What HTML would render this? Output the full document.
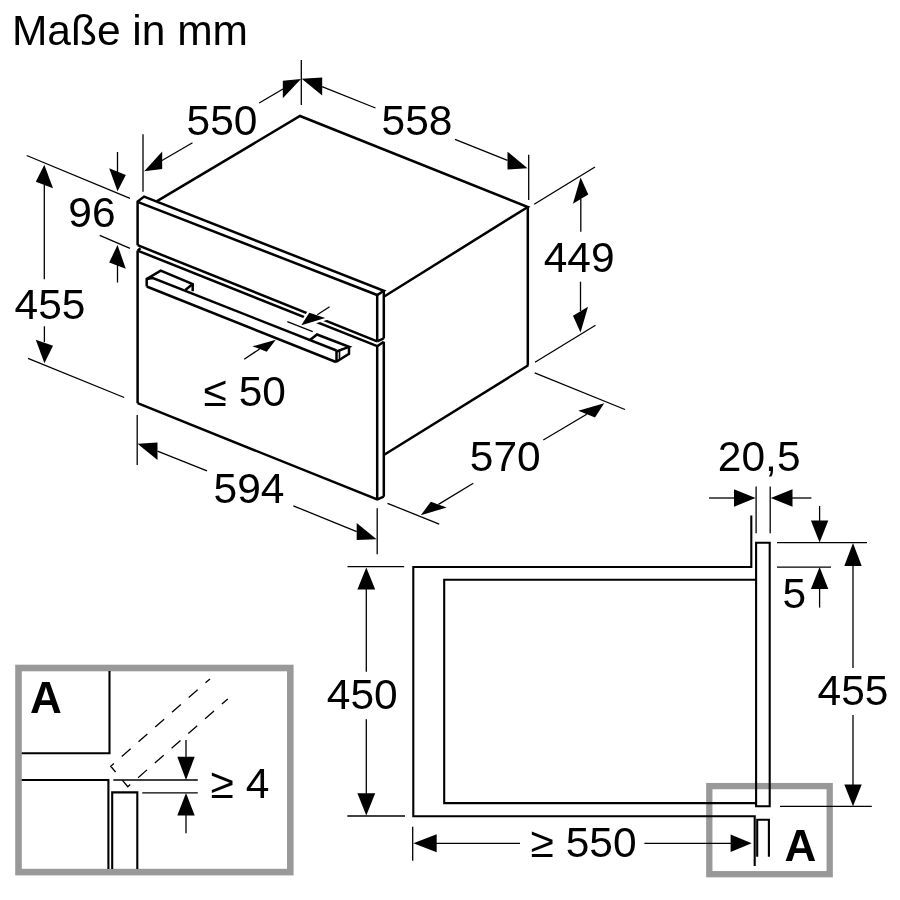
<!DOCTYPE html>
<html><head><meta charset="utf-8"><style>
html,body{margin:0;padding:0;background:#fff;}
svg{display:block;font-family:"Liberation Sans",sans-serif;will-change:transform;}
</style></head><body>
<svg width="900" height="900" viewBox="0 0 900 900" stroke="#000" stroke-linecap="butt" stroke-linejoin="miter">
<rect x="0" y="0" width="900" height="900" fill="#fff" stroke="none"/>
<rect x="18.5" y="668" width="271.8" height="204.1" fill="none" stroke="#999" stroke-width="6.6"/>
<rect x="709.3" y="786.1" width="120.4" height="88.1" fill="none" stroke="#999" stroke-width="6.3"/>
<text x="11.9" y="44.5" font-size="42.5" font-weight="normal" stroke="none" fill="#000">Maße in mm</text>
<path d="M137.6,245.2 V201.6 L144.1,196.6 L383.8,290.8 L377.2,295 L137.6,201.8" stroke-width="2.5" fill="none"/>
<line x1="377.2" y1="295" x2="377.2" y2="341.3" stroke-width="2.5"/>
<line x1="383.8" y1="290.8" x2="383.8" y2="338.5" stroke-width="2.5"/>
<line x1="137.6" y1="245.2" x2="377.2" y2="341.3" stroke-width="2.5"/>
<path d="M377.2,341.3 L383.8,338.3" stroke-width="2.5" fill="none"/>
<path d="M137.6,250.6 L140.5,248.2" stroke-width="2.5" fill="none"/>
<line x1="137.6" y1="250.6" x2="137.6" y2="403.2" stroke-width="2.5"/>
<line x1="137.6" y1="250.6" x2="377.2" y2="346.2" stroke-width="2.5"/>
<path d="M377.2,346.2 L383.8,341.8" stroke-width="2.5" fill="none"/>
<line x1="377.2" y1="346.2" x2="377.2" y2="499.5" stroke-width="2.5"/>
<line x1="383.8" y1="341.8" x2="383.8" y2="496.7" stroke-width="2.5"/>
<path d="M137.6,403.2 L377.2,499.5 L383.8,496.7" stroke-width="2.5" fill="none"/>
<path d="M156.6,201.4 L300,116 L527.8,207 L383.8,296.7" stroke-width="2.5" fill="none"/>
<line x1="527.8" y1="207" x2="527.8" y2="365.3" stroke-width="2.5"/>
<line x1="528.3" y1="365.3" x2="383.8" y2="455" stroke-width="2.5"/>
<path d="M146.7,286.5 V279 L160.7,270.7 L192.7,284 V291.3" stroke-width="2.5" fill="none"/>
<path d="M146.7,279 L152.3,277.9 L336.5,350.5" stroke-width="2.5" fill="none"/>
<path d="M185.3,290 L192.7,284" stroke-width="2.5" fill="none"/>
<line x1="146.7" y1="286.5" x2="336" y2="362" stroke-width="2.5"/>
<path d="M310,340 L317,334.5 L349,346.8 L336.5,351.5" stroke-width="2.5" fill="none"/>
<path d="M349,346.8 V353.8 L336,362" stroke-width="2.5" fill="none"/>
<line x1="336.5" y1="351" x2="336.5" y2="362" stroke-width="2.5"/>
<line x1="339.5" y1="351" x2="339.5" y2="360" stroke-width="1.6"/>
<line x1="143" y1="134.2" x2="143" y2="191.7" stroke-width="1.3"/>
<line x1="301.3" y1="60" x2="301.3" y2="105" stroke-width="1.3"/>
<polygon points="144.2,171.3 162.2,151.5 162.2,169.0" stroke="none" fill="#000"/>
<line x1="162" y1="160.5" x2="192.5" y2="142.8" stroke-width="1.3"/>
<line x1="259.2" y1="103" x2="283" y2="89" stroke-width="1.3"/>
<polygon points="301.0,79.0 282.8,80.8 282.8,98.3" stroke="none" fill="#000"/>
<text x="186.5" y="135" font-size="42.5" font-weight="normal" stroke="none" fill="#000">550</text>
<line x1="528.7" y1="154.7" x2="528.7" y2="200" stroke-width="1.3"/>
<polygon points="301.7,78.8 322.2,77.5 322.2,95.5" stroke="none" fill="#000"/>
<line x1="322" y1="86.7" x2="375.5" y2="108" stroke-width="1.3"/>
<line x1="455" y1="139.3" x2="507.5" y2="160.4" stroke-width="1.3"/>
<polygon points="527.5,168.3 507.5,151.7 507.5,169.5" stroke="none" fill="#000"/>
<text x="381.5" y="135" font-size="42.5" font-weight="normal" stroke="none" fill="#000">558</text>
<line x1="26.7" y1="155.5" x2="130" y2="198.3" stroke-width="1.3"/>
<line x1="99.7" y1="235.3" x2="130" y2="248.3" stroke-width="1.3"/>
<line x1="117.5" y1="152" x2="117.5" y2="172" stroke-width="1.3"/>
<polygon points="117.5,191.3 109.2,168.3 125.8,175.0" stroke="none" fill="#000"/>
<polygon points="117.5,245.0 109.2,262.5 125.8,268.7" stroke="none" fill="#000"/>
<line x1="117.5" y1="265" x2="117.5" y2="282.5" stroke-width="1.3"/>
<text x="68.3" y="227" font-size="42.5" font-weight="normal" stroke="none" fill="#000">96</text>
<polygon points="44.3,164.7 35.8,181.7 53.0,188.3" stroke="none" fill="#000"/>
<line x1="44.3" y1="185" x2="44.3" y2="279.2" stroke-width="1.3"/>
<text x="14.5" y="318.7" font-size="42.5" font-weight="normal" stroke="none" fill="#000">455</text>
<line x1="44.4" y1="326.3" x2="44.4" y2="342" stroke-width="1.3"/>
<polygon points="44.4,363.3 35.8,339.7 53.0,345.8" stroke="none" fill="#000"/>
<line x1="28" y1="358.3" x2="124.2" y2="397.5" stroke-width="1.3"/>
<line x1="137.2" y1="415" x2="137.2" y2="465" stroke-width="1.3"/>
<polygon points="137.5,443.8 157.5,442.5 157.5,460.0" stroke="none" fill="#000"/>
<line x1="157.5" y1="451.2" x2="207" y2="470.8" stroke-width="1.3"/>
<line x1="293.3" y1="505.8" x2="356.7" y2="531.7" stroke-width="1.3"/>
<polygon points="376.6,539.2 356.7,523.0 356.7,540.0" stroke="none" fill="#000"/>
<line x1="377.2" y1="508.3" x2="377.2" y2="554.2" stroke-width="1.3"/>
<text x="213.5" y="502.7" font-size="42.5" font-weight="normal" stroke="none" fill="#000">594</text>
<polygon points="301.3,325.3 309.3,312.7 325.3,318.0" fill="#fff" stroke="#fff" stroke-width="4.5" stroke-linejoin="round"/>
<polygon points="301.3,325.3 309.3,312.7 325.3,318.0" stroke="none" fill="#000"/>
<line x1="287.3" y1="321.7" x2="312.7" y2="331.6" stroke-width="1.3"/>
<line x1="317.3" y1="314.7" x2="329.6" y2="306.7" stroke-width="1.3"/>
<polygon points="275.8,339.7 252.5,346.3 266.7,351.7" stroke="none" fill="#000"/>
<line x1="244.2" y1="359.2" x2="259.6" y2="349" stroke-width="1.3"/>
<text x="203.5" y="405.8" font-size="42.5" font-weight="normal" stroke="none" fill="#000">≤ 50</text>
<line x1="534.2" y1="204.2" x2="595" y2="167" stroke-width="1.3"/>
<polygon points="580.6,177.6 572.9,203.8 588.3,194.6" stroke="none" fill="#000"/>
<line x1="580.8" y1="199" x2="580.8" y2="231.7" stroke-width="1.3"/>
<text x="543.7" y="271.7" font-size="42.5" font-weight="normal" stroke="none" fill="#000">449</text>
<line x1="580.5" y1="281.7" x2="580.5" y2="311" stroke-width="1.3"/>
<polygon points="580.5,332.5 573.0,315.8 588.0,306.7" stroke="none" fill="#000"/>
<line x1="535" y1="362.2" x2="595.5" y2="325.3" stroke-width="1.3"/>
<line x1="534.7" y1="372.8" x2="625" y2="409.5" stroke-width="1.3"/>
<polygon points="604.2,403.3 578.3,410.8 595.0,417.5" stroke="none" fill="#000"/>
<line x1="543.3" y1="440" x2="586.7" y2="414.2" stroke-width="1.3"/>
<text x="469.8" y="470.8" font-size="42.5" font-weight="normal" stroke="none" fill="#000">570</text>
<line x1="473.3" y1="483.3" x2="438.5" y2="504.4" stroke-width="1.3"/>
<polygon points="420.8,515.3 430.8,501.7 446.7,507.5" stroke="none" fill="#000"/>
<line x1="387.5" y1="503.3" x2="439.2" y2="524.2" stroke-width="1.3"/>
<path d="M751.3,515.6 V567 H413.3 V816.3 H754.7 V866.1" stroke-width="2.1" fill="none"/>
<path d="M756,579.8 H444.2 V803.1 H756" stroke-width="2.1" fill="none"/>
<path d="M756.1,542.8 H769.7 V806.3 H756.1 Z" stroke-width="2.1" fill="none"/>
<path d="M757.2,856.7 V819.8 H768.9 V856.7" stroke-width="2.1" fill="none"/>
<line x1="756.1" y1="486.4" x2="756.1" y2="533.3" stroke-width="1.3"/>
<line x1="770.2" y1="486.4" x2="770.2" y2="533.3" stroke-width="1.3"/>
<line x1="709" y1="498" x2="735" y2="498" stroke-width="1.3"/>
<polygon points="755.5,498 734,489.3 734,506.7" stroke="none" fill="#000"/>
<polygon points="770.8,498 792.5,489.3 792.5,506.7" stroke="none" fill="#000"/>
<line x1="792" y1="498" x2="811.4" y2="498" stroke-width="1.3"/>
<text x="717.8" y="471.4" font-size="42.5" font-weight="normal" stroke="none" fill="#000">20,5</text>
<line x1="777" y1="542.6" x2="867" y2="542.6" stroke-width="1.3"/>
<line x1="777" y1="567.1" x2="831" y2="567.1" stroke-width="1.3"/>
<line x1="819.6" y1="506" x2="819.6" y2="521" stroke-width="1.3"/>
<polygon points="819.6,542.6 810.9,520.5 828.3000000000001,520.5" stroke="none" fill="#000"/>
<polygon points="819.6,567.1 810.9,589 828.3000000000001,589" stroke="none" fill="#000"/>
<line x1="819.6" y1="588" x2="819.6" y2="607.6" stroke-width="1.3"/>
<text x="782.4" y="607.6" font-size="42.5" font-weight="normal" stroke="none" fill="#000">5</text>
<polygon points="853,543 844.3,566 861.7,566" stroke="none" fill="#000"/>
<line x1="853" y1="565" x2="853" y2="668" stroke-width="1.3"/>
<text x="817.5" y="705" font-size="42.5" font-weight="normal" stroke="none" fill="#000">455</text>
<line x1="853" y1="715" x2="853" y2="785" stroke-width="1.3"/>
<polygon points="853,806.2 844.3,784.4 861.7,784.4" stroke="none" fill="#000"/>
<line x1="780" y1="806.3" x2="871.8" y2="806.3" stroke-width="1.3"/>
<line x1="347.5" y1="566.7" x2="404.2" y2="566.7" stroke-width="1.3"/>
<polygon points="366.3,567.5 357.40000000000003,589.5 375.2,589.5" stroke="none" fill="#000"/>
<line x1="366.3" y1="589" x2="366.3" y2="671.7" stroke-width="1.3"/>
<text x="326.8" y="709.3" font-size="42.5" font-weight="normal" stroke="none" fill="#000">450</text>
<line x1="366.3" y1="719.3" x2="366.3" y2="794" stroke-width="1.3"/>
<polygon points="366.3,815.5 357.40000000000003,793.3 375.2,793.3" stroke="none" fill="#000"/>
<line x1="347.3" y1="816" x2="405" y2="816" stroke-width="1.3"/>
<line x1="412.7" y1="826.7" x2="412.7" y2="860.7" stroke-width="1.3"/>
<polygon points="413.3,843.3 436.7,834.3 436.7,852.3" stroke="none" fill="#000"/>
<line x1="436" y1="843.3" x2="520" y2="843.3" stroke-width="1.3"/>
<text x="530.5" y="856.7" font-size="42.5" font-weight="normal" stroke="none" fill="#000">≥ 550</text>
<line x1="644.4" y1="843.3" x2="731" y2="843.3" stroke-width="1.3"/>
<polygon points="751.7,843.3 730.6,834.5999999999999 730.6,852.0" stroke="none" fill="#000"/>
<text x="784.5" y="861.1" font-size="44" font-weight="bold" stroke="none" fill="#000">A</text>
<text x="30.1" y="713" font-size="44" font-weight="bold" stroke="none" fill="#000">A</text>
<path d="M109.5,671 V753.3 H21.7" stroke-width="2.1" fill="none"/>
<path d="M21.7,780 H108.4 V869" stroke-width="2.1" fill="none"/>
<path d="M112.2,869 V792.4 H137.3 V869" stroke-width="2.1" fill="none"/>
<path d="M210,678.9 L110.7,766.2 L127.8,786.7 L227.8,698.9" stroke-width="1.3" fill="none" stroke-dasharray="11.8 10.5" stroke-dashoffset="5.8"/>
<line x1="113.3" y1="780" x2="197.8" y2="780" stroke-width="1.3"/>
<line x1="142.2" y1="792.9" x2="197.8" y2="792.9" stroke-width="1.3"/>
<line x1="186" y1="740" x2="186" y2="757" stroke-width="1.3"/>
<polygon points="186,780 177.3,756.7 194.7,756.7" stroke="none" fill="#000"/>
<polygon points="186,793 177.3,815.6 194.7,815.6" stroke="none" fill="#000"/>
<line x1="186" y1="815" x2="186" y2="833.3" stroke-width="1.3"/>
<text x="210.5" y="797.8" font-size="42.5" font-weight="normal" stroke="none" fill="#000">≥ 4</text>
</svg>
</body></html>
